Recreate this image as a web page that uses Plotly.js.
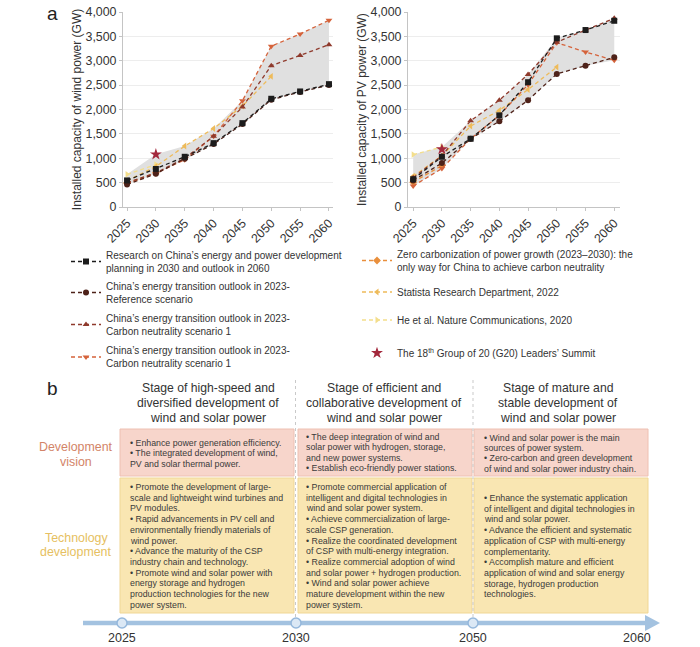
<!DOCTYPE html>
<html><head><meta charset="utf-8">
<script src="https://cdn.plot.ly/plotly-3.0.1.min.js"></script>
<style>html,body{margin:0;padding:0;background:#fff;} #chart{width:700px;height:647px;}</style>
</head><body><div id="chart"></div>
<script>
// ---------- DATA ----------
const years = [2025, 2030, 2035, 2040, 2045, 2050, 2055, 2060];
const yearLabels = ["2025", "2030", "2035", "2040", "2045", "2050", "2055", "2060"];

const seriesNames = [
  "Research on China’s energy and power development<br>planning in 2030 and outlook in 2060",
  "China’s energy transition outlook in 2023-<br>Reference scenario",
  "China’s energy transition outlook in 2023-<br>Carbon neutrality scenario 1",
  "China’s energy transition outlook in 2023-<br>Carbon neutrality scenario 1",
  "Zero carbonization of power growth (2023–2030): the<br>only way for China to achieve carbon neutrality",
  "Statista Research Department, 2022",
  "He et al. Nature Communications, 2020",
  "The 18<sup>th</sup> Group of 20 (G20) Leaders’ Summit"
];

// Wind power (GW)
const windResearch  = [545, 780, 1030, 1310, 1720, 2220, 2370, 2520];
const windReference = [460, 680, 990, 1290, 1700, 2200, 2360, 2500];
const windCN1a      = [500, 700, 1000, 1450, 2050, 2900, 3110, 3330];
const windCN1b      = [480, 690, 970, 1450, 2180, 3300, 3550, 3830];
const windZero      = [490, 700, null, null, null, null, null, null];
const windStatista  = [540, 830, 1250, 1610, 2070, 2680, null, null];
const windHe        = [670, 870, null, null, null, null, null, null];
const windG20       = [null, 1080, null, null, null, null, null, null];

// PV power (GW)
const pvResearch  = [570, 1030, 1400, 1880, 2560, 3460, 3630, 3820];
const pvReference = [545, 900, 1400, 1760, 2190, 2730, 2900, 3070];
const pvCN1a      = [600, 1050, 1770, 2190, 2720, 3380, 3630, 3870];
const pvCN1b      = [430, 790, 1400, 1880, 2510, 3370, 3180, 3010];
const pvZero      = [510, 850, null, null, null, null, null, null];
const pvStatista  = [630, 1050, 1660, 1980, 2410, 2870, null, null];
const pvHe        = [1075, 1230, null, null, null, null, null, null];
const pvG20       = [null, 1185, null, null, null, null, null, null];

// Panel b text
const stageHeaders = [
  ["Stage of high-speed and", "diversified development of", "wind and solar power"],
  ["Stage of efficient and", "collaborative development of", "wind and solar power"],
  ["Stage of mature and", "stable development of", "wind and solar power"]
];
const visionText = [
  ["• Enhance power generation efficiency.", "• The integrated development of wind,", "PV and solar thermal power."],
  ["• The deep integration of wind and", "solar power with hydrogen, storage,", "and new power systems.", "• Establish eco-friendly power stations."],
  ["• Wind and solar power is the main", "sources of power system.", "• Zero-carbon and green development", "of wind and solar power industry chain."]
];
const techText = [
  ["• Promote the development of large-", "scale and lightweight wind turbines and", "PV modules.", "• Rapid advancements in PV cell and", "environmentally friendly materials of", "wind power.", "• Advance the maturity of the CSP", "industry chain and technology.", "• Promote wind and solar power with", "energy storage and hydrogen", "production technologies for the new", "power system."],
  ["• Promote commercial application of", "intelligent and digital technologies in", "wind and solar power system.", "• Achieve commercialization of large-", "scale CSP generation.", "• Realize the coordinated development", "of CSP with multi-energy integration.", "• Realize commercial adoption of wind", "and solar power + hydrogen production.", "• Wind and solar power achieve", "mature development within the new", "power system."],
  ["• Enhance the systematic application", "of intelligent and digital technologies in", "wind and solar power.", "• Advance the efficient and systematic", "application of CSP with multi-energy", "complementarity.", "• Accomplish mature and efficient", "application of wind and solar energy", "storage, hydrogen production", "technologies."]
];
const rowLabels = [["Development", "vision"], ["Technology", "development"]];
const timelineYears = ["2025", "2030", "2050", "2060"];

// ---------- STYLE ----------
const colors  = ["#1c1c1c", "#4e2219", "#8f3a2c", "#d5633b", "#e98f3c", "#eebb5a", "#f3de8c", "#a3283c"];
const symbols = ["square", "circle", "triangle-up", "triangle-down", "diamond", "triangle-left", "triangle-right", "star"];
const FONT = "Liberation Sans, Arial, Helvetica, sans-serif";
const W = 700, H = 647;
const px = x => x / W, py = y => 1 - y / H;

const windSeries = [windResearch, windReference, windCN1a, windCN1b, windZero, windStatista, windHe, windG20];
const pvSeries   = [pvResearch, pvReference, pvCN1a, pvCN1b, pvZero, pvStatista, pvHe, pvG20];

function envelope(list) {
  const up = [], lo = [];
  years.forEach((_, i) => {
    const v = list.map(s => s[i]).filter(a => a != null);
    up.push(Math.max(...v)); lo.push(Math.min(...v));
  });
  return {x: years.concat(years.slice().reverse()), y: up.concat(lo.slice().reverse())};
}

const traces = [];
[[windSeries, "x", "y"], [pvSeries, "x2", "y2"]].forEach(([list, xa, ya], k) => {
  const env = envelope(list);
  traces.push({x: env.x, y: env.y, xaxis: xa, yaxis: ya, type: "scatter", mode: "lines",
    fill: "toself", fillcolor: "#e0e0e0", line: {width: 0}, hoverinfo: "skip", showlegend: false});
  const order = [6, 5, 4, 3, 2, 1, 0, 7];
  order.forEach(i => {
    const isStar = i === 7;
    const t = {
      x: years, y: list[i], xaxis: xa, yaxis: ya, type: "scatter",
      name: seriesNames[i],
      mode: isStar ? "markers" : "lines+markers",
      connectgaps: false,
      line: {color: colors[i], width: 1.3, dash: "4px,3px"},
      marker: {symbol: symbols[i], color: colors[i], size: isStar ? 9 : 6, line: {width: 0}},
      showlegend: k === 0,
      legend: i === 0 ? "legend" : "legend" + (i + 1)
    };
    traces.push(t);
  });
});

const axisCommon = {
  showline: true, linecolor: "#c4c4c4", linewidth: 1, showgrid: true, gridcolor: "#ededed",
  zeroline: false, ticks: "outside", ticklen: 3, tickcolor: "#c4c4c4",
  tickfont: {family: FONT, size: 12.4, color: "#333"}, automargin: false
};
const yTop = py(12), yBot = py(207);
const layout = {
  width: W, height: H, margin: {l: 0, r: 0, t: 0, b: 0, pad: 0},
  paper_bgcolor: "#fff", plot_bgcolor: "#fff",
  font: {family: FONT, color: "#333"},
  xaxis: Object.assign({}, axisCommon, {domain: [px(123), px(333)], range: [2024.3, 2060.7],
    tickmode: "array", tickvals: years, ticktext: yearLabels, tickangle: -45, showgrid: false, anchor: "y"}),
  yaxis: Object.assign({}, axisCommon, {domain: [yBot, yTop], range: [0, 4000], dtick: 500, tickformat: ",", anchor: "x",
    title: {text: "Installed capacity of wind power (GW)", font: {family: FONT, size: 12, color: "#333"}}}),
  xaxis2: Object.assign({}, axisCommon, {domain: [px(408), px(620)], range: [2024.1, 2061.0],
    tickmode: "array", tickvals: years, ticktext: yearLabels, tickangle: -45, showgrid: false, anchor: "y2"}),
  yaxis2: Object.assign({}, axisCommon, {domain: [yBot, yTop], range: [0, 4000], dtick: 500, tickformat: ",", anchor: "x2",
    title: {text: "Installed capacity of PV power (GW)", font: {family: FONT, size: 12, color: "#333"}}}),
  shapes: [], annotations: []
};

// legends, one per entry
const legendPos = [[66, 261.5], [66, 292.5], [66, 324.5], [66, 357], [357, 260.5], [357, 292], [357, 320], [357, 353]];
legendPos.forEach((p, i) => {
  const key = i === 0 ? "legend" : "legend" + (i + 1);
  layout[key] = {x: px(p[0]), y: py(p[1]), xanchor: "left", yanchor: "middle", bgcolor: "rgba(0,0,0,0)",
    font: {family: FONT, size: 10, color: "#333"}, itemclick: false, itemdoubleclick: false};
});

function ann(text, x, y, opts) {
  layout.annotations.push(Object.assign({text: text, x: px(x), y: py(y), xref: "paper", yref: "paper",
    showarrow: false, xanchor: "center", yanchor: "middle",
    font: {family: FONT, size: 12, color: "#333"}}, opts || {}));
}
ann("a", 52, 13, {font: {family: FONT, size: 19, color: "#222"}});
ann("b", 52, 388, {font: {family: FONT, size: 19, color: "#222"}});

// panel b boxes
const colX = [[120, 294], [298, 472], [474, 648]];
colX.forEach(c => {
  layout.shapes.push({type: "rect", xref: "paper", yref: "paper", x0: px(c[0]), x1: px(c[1]), y0: py(476), y1: py(429),
    fillcolor: "#f7d5cb", line: {color: "#eec0b2", width: 1}, layer: "below"});
  layout.shapes.push({type: "rect", xref: "paper", yref: "paper", x0: px(c[0]), x1: px(c[1]), y0: py(613), y1: py(478),
    fillcolor: "#f9e6b2", line: {color: "#f0d795", width: 1}, layer: "below"});
});
[295.5, 473].forEach(x => {
  layout.shapes.push({type: "line", xref: "paper", yref: "paper", x0: px(x), x1: px(x), y0: py(380), y1: py(618),
    line: {color: "#c9c9c9", width: 1, dash: "3px,3px"}});
});
// timeline
layout.shapes.push({type: "line", xref: "paper", yref: "paper", x0: px(83), x1: px(648), y0: py(623), y1: py(623),
  line: {color: "#a3c2e0", width: 4.5}});
layout.shapes.push({type: "path", xref: "paper", yref: "paper",
  path: `M ${px(645)},${py(615)} L ${px(660)},${py(623)} L ${px(645)},${py(631)} Z`,
  fillcolor: "#a3c2e0", line: {color: "#a3c2e0", width: 0}});
[122, 296, 473].forEach(x => {
  layout.shapes.push({type: "circle", xref: "paper", yref: "paper", x0: px(x - 5), x1: px(x + 5), y0: py(628), y1: py(618),
    fillcolor: "#dbe8f5", line: {color: "#95b8dc", width: 1.5}});
});
const tlX = [122, 296, 473, 637];
timelineYears.forEach((t, i) => ann(t, tlX[i], 638, {font: {family: FONT, size: 12.5, color: "#333"}}));

// headers
const headX = [208, 384, 558];
stageHeaders.forEach((lines, c) => lines.forEach((l, j) =>
  ann(l, headX[c], 388 + j * 15, {font: {family: FONT, size: 12.2, color: "#333"}})));
// row labels
ann(rowLabels[0][0], 76, 447, {font: {family: FONT, size: 12.4, color: "#d38468"}});
ann(rowLabels[0][1], 76, 462, {font: {family: FONT, size: 12.4, color: "#d38468"}});
ann(rowLabels[1][0], 76, 538, {font: {family: FONT, size: 12.4, color: "#e6bf62"}});
ann(rowLabels[1][1], 76, 552, {font: {family: FONT, size: 12.4, color: "#e6bf62"}});
// box texts
const textX = [128, 304, 482];
const visY0 = [443, 437, 437.5], techY0 = [487, 487, 498];
const boxFont = {family: FONT, size: 8.8, color: "#3a3a3a"};
visionText.forEach((lines, c) => lines.forEach((l, j) =>
  ann(l, textX[c], visY0[c] + j * 10.4, {xanchor: "left", font: boxFont})));
techText.forEach((lines, c) => lines.forEach((l, j) =>
  ann(l, textX[c], techY0[c] + j * 10.7, {xanchor: "left", font: boxFont})));

Plotly.newPlot("chart", traces, layout, {displayModeBar: false, staticPlot: true});
</script></body></html>
